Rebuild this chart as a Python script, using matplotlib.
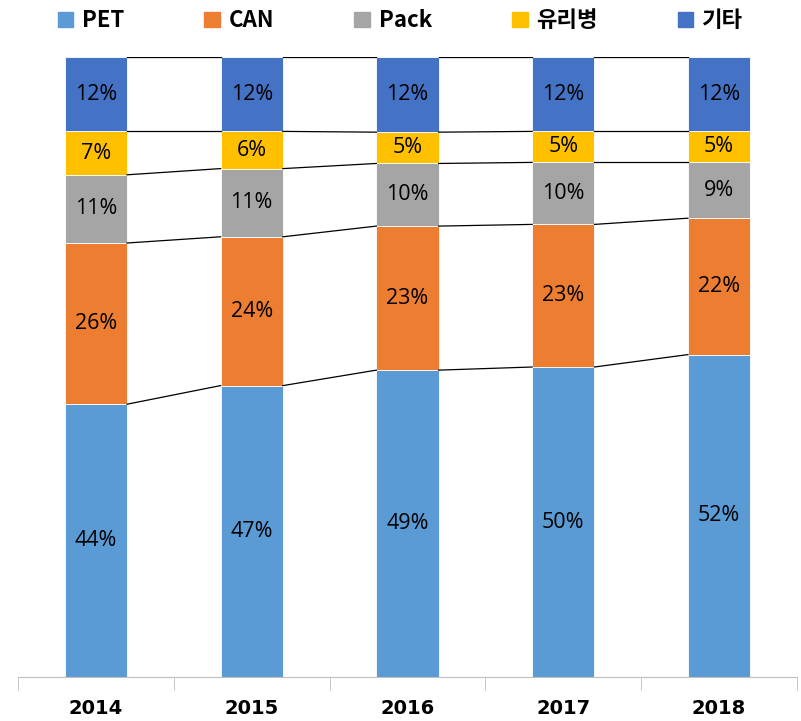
import numpy as np
import matplotlib.pyplot as plt
from matplotlib.patches import Patch

plt.rcParams['font.family'] = ['Noto Sans CJK KR', 'DejaVu Sans']

years = ['2014', '2015', '2016', '2017', '2018']
series = ['PET', 'CAN', 'Pack', '유리병', '기타']
pet = [44, 47, 49, 50, 52]
can = [26, 24, 23, 23, 22]
pack = [11, 11, 10, 10, 9]
glass = [7, 6, 5, 5, 5]
etc = [12, 12, 12, 12, 12]
colors = ['#5B9BD5', '#ED7D31', '#A5A5A5', '#FFC000', '#4472C4']

data = np.array([pet, can, pack, glass, etc], dtype=float)
share = data / data.sum(axis=0) * 100  # 100% stacked

fig = plt.figure(figsize=(8.01, 7.21), dpi=100)
ax = fig.add_axes([18 / 801, 1 - 677 / 721, 779 / 801, 620 / 721])

x = np.arange(len(years))
w = 0.4
bottom = np.zeros(len(years))
for i, name in enumerate(series):
    ax.bar(x, share[i], w, bottom=bottom, color=colors[i],
           edgecolor='white', linewidth=0.6, label=name)
    for j in range(len(years)):
        ax.text(x[j], bottom[j] + share[i][j] / 2, f'{int(data[i][j])}%',
                ha='center', va='center', fontsize=15.5, color='black',
                family=['Open Sans', 'DejaVu Sans'])
    bottom = bottom + share[i]
    # series lines between bars
    for j in range(len(years) - 1):
        ax.plot([x[j] + w / 2, x[j + 1] - w / 2], [bottom[j], bottom[j + 1]],
                color='black', linewidth=0.9)

ax.set_xlim(-0.5, len(years) - 0.5)
ax.set_ylim(0, 100)
ax.set_yticks([])
for s in ['left', 'right', 'top']:
    ax.spines[s].set_visible(False)
ax.spines['bottom'].set_color('#BFBFBF')
ax.set_xticks(x)
ax.set_xticklabels(years, fontsize=14, fontweight='bold',
                   family=['DejaVu Sans'])
ax.set_xticks(np.arange(-0.5, len(years)), minor=True)
ax.tick_params(axis='x', which='major', length=0, pad=16)
ax.tick_params(axis='x', which='minor', length=9, color='#BFBFBF')

handles = [Patch(color=c, label=n) for c, n in zip(colors, series)]
leg = fig.legend(handles=handles, loc='upper center', ncol=5, frameon=False,
                 bbox_to_anchor=(0.5, 1.015), handlelength=0.7, handleheight=0.7,
                 handletextpad=0.4, columnspacing=3.6,
                 prop={'size': 16, 'weight': 'bold'})

fig.savefig('out.png', dpi=100)
